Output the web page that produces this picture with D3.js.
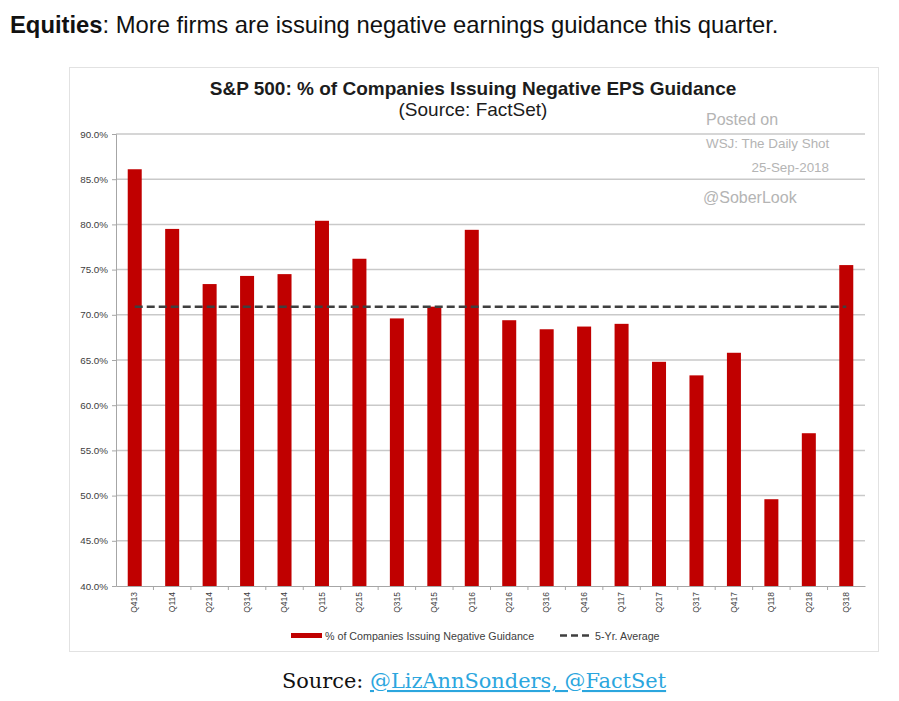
<!DOCTYPE html>
<html>
<head>
<meta charset="utf-8">
<script src="https://cdn.jsdelivr.net/npm/d3@7"></script>
<style>
	body { margin: 0; background: #fff; }
	svg { display: block; }
</style>
</head>
<body>
<script>
//quarters on the x axis
var quarters = ["Q413", "Q114", "Q214", "Q314", "Q414", "Q115", "Q215", "Q315", "Q415", "Q116",
	"Q216", "Q316", "Q416", "Q117", "Q217", "Q317", "Q417", "Q118", "Q218", "Q318"];

//% of companies issuing negative EPS guidance
var negGuidance = [86.1, 79.5, 73.4, 74.3, 74.5, 80.4, 76.2, 69.6, 70.9, 79.4,
	69.4, 68.4, 68.7, 69.0, 64.8, 63.3, 65.8, 49.6, 56.9, 75.5];

//5-yr average
var fiveYrAvg = 70.9;

//y ticks
var yTicks = [40, 45, 50, 55, 60, 65, 70, 75, 80, 85, 90];

window.onload = drawChart();

function drawChart(){
	var width = 899,
		height = 701;

	var svg = d3.select("body")
		.append("svg")
		.attr("width", width)
		.attr("height", height);

	//heading line above the chart
	var head = svg.append("text")
		.attr("x", 10)
		.attr("y", 33)
		.style("font-family", "'Liberation Sans', Arial, sans-serif")
		.style("font-size", "23.8px")
		.style("fill", "#111");
	head.append("tspan").style("font-weight", "bold").text("Equities");
	head.append("tspan").text(": More firms are issuing negative earnings guidance this quarter.");

	//chart frame
	svg.append("rect")
		.attr("x", 69.5)
		.attr("y", 67.5)
		.attr("width", 809)
		.attr("height", 584)
		.attr("fill", "#fff")
		.attr("stroke", "#e2e2e2");

	//plot area
	var left = 116, right = 865, top = 134, bottom = 586;

	var x = d3.scaleBand()
		.domain(quarters)
		.range([left, right])
		.paddingInner(0.626)
		.paddingOuter(0.313);

	var y = d3.scaleLinear()
		.domain([40, 90])
		.range([bottom, top]);

	//gridlines
	svg.selectAll(".grid")
		.data(yTicks.slice(1))
		.enter()
		.append("line")
		.attr("class", "grid")
		.attr("x1", left)
		.attr("x2", right)
		.attr("y1", function(d){ return y(d); })
		.attr("y2", function(d){ return y(d); })
		.attr("stroke", "#c9c9c9")
		.attr("stroke-width", 1.5);

	//watermark
	var wm = svg.append("g")
		.style("font-family", "'Liberation Sans', Arial, sans-serif")
		.style("fill", "#b4b4b4");
	wm.append("text").attr("x", 706).attr("y", 125).style("font-size", "16px").text("Posted on");
	wm.append("text").attr("x", 706).attr("y", 148).style("font-size", "13.4px").text("WSJ: The Daily Shot");
	wm.append("text").attr("x", 829).attr("y", 172).attr("text-anchor", "end").style("font-size", "13.4px").text("25-Sep-2018");
	wm.append("text").attr("x", 703).attr("y", 203).style("font-size", "16px").text("@SoberLook");

	//bars
	svg.selectAll(".bar")
		.data(negGuidance)
		.enter()
		.append("rect")
		.attr("class", "bar")
		.attr("x", function(d, i){ return x(quarters[i]); })
		.attr("width", x.bandwidth())
		.attr("y", function(d){ return y(d); })
		.attr("height", function(d){ return y(40) - y(d); })
		.attr("fill", "#c00000");

	//5-yr average line
	var avgLine = d3.line()
		.x(function(d){ return x(d) + x.bandwidth() / 2; })
		.y(function(){ return y(fiveYrAvg); });

	svg.append("path")
		.datum([quarters[0], quarters[quarters.length - 1]])
		.attr("d", avgLine)
		.attr("fill", "none")
		.attr("stroke", "#3f3f3f")
		.attr("stroke-width", 2.5)
		.attr("stroke-dasharray", "8,4");

	//y axis
	var yAxis = d3.axisLeft(y)
		.tickValues(yTicks)
		.tickSize(4)
		.tickFormat(function(d){ return d.toFixed(1) + "%"; });

	var yg = svg.append("g")
		.attr("transform", "translate(" + left + ",0)")
		.call(yAxis);
	yg.select(".domain").attr("stroke", "#a6a6a6");
	yg.selectAll(".tick line").attr("stroke", "#a6a6a6");
	yg.selectAll(".tick text")
		.attr("x", -8)
		.style("font-family", "'Liberation Sans', Arial, sans-serif")
		.style("font-size", "9.8px")
		.style("fill", "#404040");

	//x axis
	var xAxis = d3.axisBottom(x).tickSize(0).tickSizeOuter(0);
	var xg = svg.append("g")
		.attr("transform", "translate(0," + bottom + ")")
		.call(xAxis);
	xg.select(".domain").attr("stroke", "#a6a6a6");
	xg.selectAll(".tick text")
		.attr("transform", "rotate(-90)")
		.attr("x", -6)
		.attr("y", 0)
		.attr("dy", "0.32em")
		.attr("text-anchor", "end")
		.style("font-family", "'Liberation Sans', Arial, sans-serif")
		.style("font-size", "8.5px")
		.style("fill", "#404040");

	//small ticks between categories
	svg.selectAll(".sep")
		.data(quarters.slice(1))
		.enter()
		.append("line")
		.attr("class", "sep")
		.attr("x1", function(d){ return x(d) - x.step() * x.paddingInner() / 2; })
		.attr("x2", function(d){ return x(d) - x.step() * x.paddingInner() / 2; })
		.attr("y1", bottom)
		.attr("y2", bottom + 4)
		.attr("stroke", "#a6a6a6");

	//titles
	svg.append("text")
		.attr("x", 473)
		.attr("y", 95)
		.attr("text-anchor", "middle")
		.style("font-family", "'Liberation Sans', Arial, sans-serif")
		.style("font-weight", "bold")
		.style("font-size", "19px")
		.style("fill", "#1c1c1c")
		.text("S&P 500: % of Companies Issuing Negative EPS Guidance");

	svg.append("text")
		.attr("x", 473)
		.attr("y", 116)
		.attr("text-anchor", "middle")
		.style("font-family", "'Liberation Sans', Arial, sans-serif")
		.style("font-size", "19px")
		.style("fill", "#1c1c1c")
		.text("(Source: FactSet)");

	//legend
	var legend = svg.append("g")
		.style("font-family", "'Liberation Sans', Arial, sans-serif")
		.style("font-size", "10.7px")
		.style("fill", "#404040");
	legend.append("rect")
		.attr("x", 291).attr("y", 633)
		.attr("width", 31).attr("height", 5)
		.attr("fill", "#c00000");
	legend.append("text")
		.attr("x", 325).attr("y", 639.5)
		.text("% of Companies Issuing Negative Guidance");
	legend.append("line")
		.attr("x1", 560).attr("x2", 591)
		.attr("y1", 635.5).attr("y2", 635.5)
		.attr("stroke", "#3f3f3f")
		.attr("stroke-width", 2.5)
		.attr("stroke-dasharray", "7,4");
	legend.append("text")
		.attr("x", 595).attr("y", 639.5)
		.text("5-Yr. Average");

	//source line below the chart
	var src = svg.append("text")
		.attr("x", 474)
		.attr("y", 688)
		.attr("text-anchor", "middle")
		.style("font-family", "'DejaVu Serif', serif")
		.style("font-size", "20.9px");
	src.append("tspan").style("fill", "#111").text("Source: ");
	src.append("tspan")
		.style("fill", "#2ba6de")
		.style("text-decoration", "underline")
		.text("@LizAnnSonders, @FactSet");
};
</script>
</body>
</html>
